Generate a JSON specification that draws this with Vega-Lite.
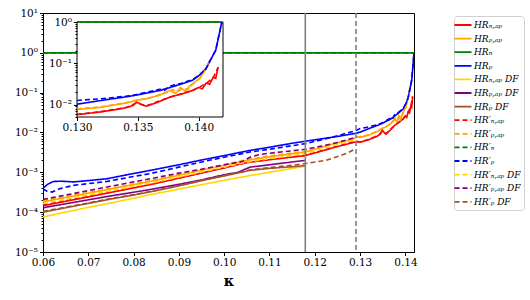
{
  "$schema": "https://vega.github.io/schema/vega-lite/v6.json",
  "width": 371,
  "height": 239,
  "autosize": {"type": "none"},
  "padding": {"left": 43, "top": 13, "right": 116, "bottom": 48},
  "config": {
    "font": "DejaVu Serif",
    "view": {"stroke": "black", "strokeWidth": 1},
    "axis": {"labelFont": "DejaVu Serif", "labelFontSize": 10.5, "labelColor": "black", "tickColor": "black", "domainColor": "black", "grid": false, "labelFlush": false, "labelOverlap": false, "titleColor": "black"},
    "legend": {
      "orient": "none", "legendX": 411, "legendY": 3, "title": null,
      "padding": 3, "strokeColor": "#d0d0d0", "fillColor": "white", "cornerRadius": 3,
      "labelFont": "DejaVu Serif", "labelFontStyle": "italic", "labelFontSize": 9, "labelColor": "black",
      "symbolType": "M-1.7,0H1.7", "symbolSize": 100, "symbolStrokeWidth": 1.8, "rowPadding": 2.6, "labelOffset": 5
    }
  },
  "datasets": {
    "d": [
      {"s": "HRₙ,ₐₚ", "k": 0.06, "v": 1.45e-4}, {"s": "HRₙ,ₐₚ", "k": 0.065, "v": 1.87e-4}, {"s": "HRₙ,ₐₚ", "k": 0.07, "v": 2.42e-4}, {"s": "HRₙ,ₐₚ", "k": 0.075, "v": 3.13e-4}, {"s": "HRₙ,ₐₚ", "k": 0.08, "v": 4.06e-4}, {"s": "HRₙ,ₐₚ", "k": 0.085, "v": 5.3e-4}, {"s": "HRₙ,ₐₚ", "k": 0.09, "v": 7.13e-4}, {"s": "HRₙ,ₐₚ", "k": 0.095, "v": 9.62e-4}, {"s": "HRₙ,ₐₚ", "k": 0.1, "v": 1.29e-3}, {"s": "HRₙ,ₐₚ", "k": 0.105, "v": 1.75e-3}, {"s": "HRₙ,ₐₚ", "k": 0.11, "v": 2.07e-3}, {"s": "HRₙ,ₐₚ", "k": 0.115, "v": 2.41e-3}, {"s": "HRₙ,ₐₚ", "k": 0.1179, "v": 2.63e-3}, {"s": "HRₙ,ₐₚ", "k": 0.122, "v": 3.56e-3}, {"s": "HRₙ,ₐₚ", "k": 0.125, "v": 4.45e-3}, {"s": "HRₙ,ₐₚ", "k": 0.1283, "v": 5.5e-3}, {"s": "HRₙ,ₐₚ", "k": 0.1291, "v": 5.9e-3}, {"s": "HRₙ,ₐₚ", "k": 0.13, "v": 5.7e-3}, {"s": "HRₙ,ₐₚ", "k": 0.1319, "v": 6.6e-3}, {"s": "HRₙ,ₐₚ", "k": 0.1335, "v": 7.8e-3}, {"s": "HRₙ,ₐₚ", "k": 0.1341, "v": 8.5e-3}, {"s": "HRₙ,ₐₚ", "k": 0.1346, "v": 9.5e-3}, {"s": "HRₙ,ₐₚ", "k": 0.1349, "v": 1.15e-2}, {"s": "HRₙ,ₐₚ", "k": 0.1353, "v": 1.0e-2}, {"s": "HRₙ,ₐₚ", "k": 0.1357, "v": 9.1e-3}, {"s": "HRₙ,ₐₚ", "k": 0.1365, "v": 1.1e-2}, {"s": "HRₙ,ₐₚ", "k": 0.1376, "v": 1.5e-2}, {"s": "HRₙ,ₐₚ", "k": 0.1386, "v": 1.8e-2}, {"s": "HRₙ,ₐₚ", "k": 0.1395, "v": 2.2e-2}, {"s": "HRₙ,ₐₚ", "k": 0.14, "v": 2.6e-2}, {"s": "HRₙ,ₐₚ", "k": 0.1403, "v": 2.4e-2}, {"s": "HRₙ,ₐₚ", "k": 0.1406, "v": 3.3e-2}, {"s": "HRₙ,ₐₚ", "k": 0.1409, "v": 3.1e-2}, {"s": "HRₙ,ₐₚ", "k": 0.1412, "v": 4.6e-2}, {"s": "HRₙ,ₐₚ", "k": 0.1414, "v": 4.3e-2}, {"s": "HRₙ,ₐₚ", "k": 0.1416, "v": 8.1e-2},

      {"s": "HRₚ,ₐₚ", "k": 0.06, "v": 1.82e-4}, {"s": "HRₚ,ₐₚ", "k": 0.065, "v": 2.33e-4}, {"s": "HRₚ,ₐₚ", "k": 0.07, "v": 2.99e-4}, {"s": "HRₚ,ₐₚ", "k": 0.075, "v": 3.82e-4}, {"s": "HRₚ,ₐₚ", "k": 0.08, "v": 4.9e-4}, {"s": "HRₚ,ₐₚ", "k": 0.085, "v": 6.34e-4}, {"s": "HRₚ,ₐₚ", "k": 0.09, "v": 8.45e-4}, {"s": "HRₚ,ₐₚ", "k": 0.095, "v": 1.13e-3}, {"s": "HRₚ,ₐₚ", "k": 0.1, "v": 1.5e-3}, {"s": "HRₚ,ₐₚ", "k": 0.105, "v": 2.0e-3}, {"s": "HRₚ,ₐₚ", "k": 0.11, "v": 2.44e-3}, {"s": "HRₚ,ₐₚ", "k": 0.115, "v": 2.92e-3}, {"s": "HRₚ,ₐₚ", "k": 0.1179, "v": 3.24e-3}, {"s": "HRₚ,ₐₚ", "k": 0.122, "v": 4.42e-3}, {"s": "HRₚ,ₐₚ", "k": 0.125, "v": 5.55e-3}, {"s": "HRₚ,ₐₚ", "k": 0.1283, "v": 6.6e-3}, {"s": "HRₚ,ₐₚ", "k": 0.1291, "v": 7.6e-3}, {"s": "HRₚ,ₐₚ", "k": 0.13, "v": 7.6e-3}, {"s": "HRₚ,ₐₚ", "k": 0.1319, "v": 8.5e-3}, {"s": "HRₚ,ₐₚ", "k": 0.1341, "v": 1.1e-2}, {"s": "HRₚ,ₐₚ", "k": 0.1349, "v": 1.26e-2}, {"s": "HRₚ,ₐₚ", "k": 0.1357, "v": 1.38e-2}, {"s": "HRₚ,ₐₚ", "k": 0.1368, "v": 1.69e-2}, {"s": "HRₚ,ₐₚ", "k": 0.1376, "v": 2.2e-2}, {"s": "HRₚ,ₐₚ", "k": 0.1381, "v": 1.85e-2}, {"s": "HRₚ,ₐₚ", "k": 0.1385, "v": 2.6e-2}, {"s": "HRₚ,ₐₚ", "k": 0.1389, "v": 2.1e-2}, {"s": "HRₚ,ₐₚ", "k": 0.1393, "v": 2.9e-2}, {"s": "HRₚ,ₐₚ", "k": 0.1395, "v": 3.2e-2}, {"s": "HRₚ,ₐₚ", "k": 0.1401, "v": 4.3e-2}, {"s": "HRₚ,ₐₚ", "k": 0.1406, "v": 7.4e-2}, {"s": "HRₚ,ₐₚ", "k": 0.1409, "v": 0.118},

      {"s": "HRₙ", "k": 0.06, "v": 1.0}, {"s": "HRₙ", "k": 0.07, "v": 1.0}, {"s": "HRₙ", "k": 0.08, "v": 1.0}, {"s": "HRₙ", "k": 0.09, "v": 1.0}, {"s": "HRₙ", "k": 0.1, "v": 1.0}, {"s": "HRₙ", "k": 0.11, "v": 1.0}, {"s": "HRₙ", "k": 0.12, "v": 1.0}, {"s": "HRₙ", "k": 0.13, "v": 1.0}, {"s": "HRₙ", "k": 0.14, "v": 1.0}, {"s": "HRₙ", "k": 0.1418, "v": 1.0},

      {"s": "HRₚ", "k": 0.06, "v": 3.98e-4}, {"s": "HRₚ", "k": 0.061, "v": 5.0e-4}, {"s": "HRₚ", "k": 0.0623, "v": 5.9e-4}, {"s": "HRₚ", "k": 0.064, "v": 6.0e-4}, {"s": "HRₚ", "k": 0.0667, "v": 5.75e-4}, {"s": "HRₚ", "k": 0.07, "v": 6.2e-4}, {"s": "HRₚ", "k": 0.0741, "v": 6.9e-4}, {"s": "HRₚ", "k": 0.079, "v": 8.9e-4}, {"s": "HRₚ", "k": 0.0837, "v": 1.12e-3}, {"s": "HRₚ", "k": 0.09, "v": 1.55e-3}, {"s": "HRₚ", "k": 0.095, "v": 2.04e-3}, {"s": "HRₚ", "k": 0.1, "v": 2.63e-3}, {"s": "HRₚ", "k": 0.1057, "v": 3.55e-3}, {"s": "HRₚ", "k": 0.11, "v": 4.27e-3}, {"s": "HRₚ", "k": 0.115, "v": 5.37e-3}, {"s": "HRₚ", "k": 0.1179, "v": 6.03e-3}, {"s": "HRₚ", "k": 0.122, "v": 7.08e-3}, {"s": "HRₚ", "k": 0.125, "v": 7.94e-3}, {"s": "HRₚ", "k": 0.1291, "v": 9.55e-3}, {"s": "HRₚ", "k": 0.13, "v": 1.02e-2}, {"s": "HRₚ", "k": 0.132, "v": 1.26e-2}, {"s": "HRₚ", "k": 0.1341, "v": 1.55e-2}, {"s": "HRₚ", "k": 0.1349, "v": 1.7e-2}, {"s": "HRₚ", "k": 0.1368, "v": 2.19e-2}, {"s": "HRₚ", "k": 0.1376, "v": 2.57e-2}, {"s": "HRₚ", "k": 0.1386, "v": 3.16e-2}, {"s": "HRₚ", "k": 0.1395, "v": 3.89e-2}, {"s": "HRₚ", "k": 0.1401, "v": 5.25e-2}, {"s": "HRₚ", "k": 0.1406, "v": 7.41e-2}, {"s": "HRₚ", "k": 0.1411, "v": 0.141}, {"s": "HRₚ", "k": 0.1414, "v": 0.204}, {"s": "HRₚ", "k": 0.1417, "v": 0.525}, {"s": "HRₚ", "k": 0.1419, "v": 1.0},

      {"s": "HRₙ,ₐₚ DF", "k": 0.06, "v": 7.6e-5}, {"s": "HRₙ,ₐₚ DF", "k": 0.065, "v": 1.0e-4}, {"s": "HRₙ,ₐₚ DF", "k": 0.07, "v": 1.32e-4}, {"s": "HRₙ,ₐₚ DF", "k": 0.075, "v": 1.7e-4}, {"s": "HRₙ,ₐₚ DF", "k": 0.08, "v": 2.24e-4}, {"s": "HRₙ,ₐₚ DF", "k": 0.0837, "v": 2.75e-4}, {"s": "HRₙ,ₐₚ DF", "k": 0.09, "v": 3.8e-4}, {"s": "HRₙ,ₐₚ DF", "k": 0.095, "v": 4.9e-4}, {"s": "HRₙ,ₐₚ DF", "k": 0.1, "v": 6.3e-4}, {"s": "HRₙ,ₐₚ DF", "k": 0.1057, "v": 8.3e-4}, {"s": "HRₙ,ₐₚ DF", "k": 0.11, "v": 1.0e-3}, {"s": "HRₙ,ₐₚ DF", "k": 0.115, "v": 1.26e-3}, {"s": "HRₙ,ₐₚ DF", "k": 0.1179, "v": 1.41e-3},

      {"s": "HRₚ,ₐₚ DF", "k": 0.06, "v": 1.29e-4}, {"s": "HRₚ,ₐₚ DF", "k": 0.065, "v": 1.62e-4}, {"s": "HRₚ,ₐₚ DF", "k": 0.07, "v": 2.04e-4}, {"s": "HRₚ,ₐₚ DF", "k": 0.075, "v": 2.57e-4}, {"s": "HRₚ,ₐₚ DF", "k": 0.08, "v": 3.16e-4}, {"s": "HRₚ,ₐₚ DF", "k": 0.0837, "v": 3.72e-4}, {"s": "HRₚ,ₐₚ DF", "k": 0.09, "v": 5.0e-4}, {"s": "HRₚ,ₐₚ DF", "k": 0.095, "v": 6.46e-4}, {"s": "HRₚ,ₐₚ DF", "k": 0.1, "v": 8.7e-4}, {"s": "HRₚ,ₐₚ DF", "k": 0.103, "v": 1.0e-3}, {"s": "HRₚ,ₐₚ DF", "k": 0.1057, "v": 1.35e-3}, {"s": "HRₚ,ₐₚ DF", "k": 0.11, "v": 1.55e-3}, {"s": "HRₚ,ₐₚ DF", "k": 0.115, "v": 1.82e-3}, {"s": "HRₚ,ₐₚ DF", "k": 0.1179, "v": 2.0e-3},

      {"s": "HRₚ DF", "k": 0.06, "v": 1.0e-4}, {"s": "HRₚ DF", "k": 0.065, "v": 1.29e-4}, {"s": "HRₚ DF", "k": 0.07, "v": 1.66e-4}, {"s": "HRₚ DF", "k": 0.075, "v": 2.14e-4}, {"s": "HRₚ DF", "k": 0.08, "v": 2.69e-4}, {"s": "HRₚ DF", "k": 0.0837, "v": 3.24e-4}, {"s": "HRₚ DF", "k": 0.09, "v": 4.57e-4}, {"s": "HRₚ DF", "k": 0.095, "v": 6.17e-4}, {"s": "HRₚ DF", "k": 0.1, "v": 8.13e-4}, {"s": "HRₚ DF", "k": 0.1057, "v": 1.12e-3}, {"s": "HRₚ DF", "k": 0.11, "v": 1.26e-3}, {"s": "HRₚ DF", "k": 0.115, "v": 1.38e-3}, {"s": "HRₚ DF", "k": 0.1179, "v": 1.48e-3},

      {"s": "HR′ₙ,ₐₚ", "k": 0.06, "v": 1.5e-4}, {"s": "HR′ₙ,ₐₚ", "k": 0.065, "v": 1.95e-4}, {"s": "HR′ₙ,ₐₚ", "k": 0.07, "v": 2.5e-4}, {"s": "HR′ₙ,ₐₚ", "k": 0.075, "v": 3.2e-4}, {"s": "HR′ₙ,ₐₚ", "k": 0.08, "v": 4.15e-4}, {"s": "HR′ₙ,ₐₚ", "k": 0.085, "v": 5.4e-4}, {"s": "HR′ₙ,ₐₚ", "k": 0.09, "v": 7.2e-4}, {"s": "HR′ₙ,ₐₚ", "k": 0.095, "v": 9.7e-4}, {"s": "HR′ₙ,ₐₚ", "k": 0.1, "v": 1.3e-3}, {"s": "HR′ₙ,ₐₚ", "k": 0.105, "v": 1.76e-3}, {"s": "HR′ₙ,ₐₚ", "k": 0.11, "v": 2.1e-3}, {"s": "HR′ₙ,ₐₚ", "k": 0.115, "v": 2.45e-3}, {"s": "HR′ₙ,ₐₚ", "k": 0.1179, "v": 2.68e-3}, {"s": "HR′ₙ,ₐₚ", "k": 0.122, "v": 3.6e-3}, {"s": "HR′ₙ,ₐₚ", "k": 0.125, "v": 4.5e-3}, {"s": "HR′ₙ,ₐₚ", "k": 0.1291, "v": 6.0e-3}, {"s": "HR′ₙ,ₐₚ", "k": 0.13, "v": 5.8e-3}, {"s": "HR′ₙ,ₐₚ", "k": 0.1319, "v": 6.7e-3}, {"s": "HR′ₙ,ₐₚ", "k": 0.1341, "v": 8.6e-3}, {"s": "HR′ₙ,ₐₚ", "k": 0.1349, "v": 1.1e-2}, {"s": "HR′ₙ,ₐₚ", "k": 0.1357, "v": 9.3e-3}, {"s": "HR′ₙ,ₐₚ", "k": 0.1376, "v": 1.5e-2}, {"s": "HR′ₙ,ₐₚ", "k": 0.1395, "v": 2.2e-2}, {"s": "HR′ₙ,ₐₚ", "k": 0.1406, "v": 3.2e-2}, {"s": "HR′ₙ,ₐₚ", "k": 0.1412, "v": 4.5e-2}, {"s": "HR′ₙ,ₐₚ", "k": 0.1416, "v": 8.0e-2},

      {"s": "HR′ₚ,ₐₚ", "k": 0.06, "v": 1.95e-4}, {"s": "HR′ₚ,ₐₚ", "k": 0.065, "v": 2.45e-4}, {"s": "HR′ₚ,ₐₚ", "k": 0.07, "v": 3.12e-4}, {"s": "HR′ₚ,ₐₚ", "k": 0.075, "v": 3.97e-4}, {"s": "HR′ₚ,ₐₚ", "k": 0.08, "v": 5.1e-4}, {"s": "HR′ₚ,ₐₚ", "k": 0.085, "v": 6.6e-4}, {"s": "HR′ₚ,ₐₚ", "k": 0.09, "v": 8.8e-4}, {"s": "HR′ₚ,ₐₚ", "k": 0.095, "v": 1.17e-3}, {"s": "HR′ₚ,ₐₚ", "k": 0.1, "v": 1.56e-3}, {"s": "HR′ₚ,ₐₚ", "k": 0.105, "v": 2.08e-3}, {"s": "HR′ₚ,ₐₚ", "k": 0.11, "v": 2.6e-3}, {"s": "HR′ₚ,ₐₚ", "k": 0.115, "v": 3.05e-3}, {"s": "HR′ₚ,ₐₚ", "k": 0.1179, "v": 3.35e-3}, {"s": "HR′ₚ,ₐₚ", "k": 0.122, "v": 4.5e-3}, {"s": "HR′ₚ,ₐₚ", "k": 0.125, "v": 5.6e-3}, {"s": "HR′ₚ,ₐₚ", "k": 0.1283, "v": 6.8e-3}, {"s": "HR′ₚ,ₐₚ", "k": 0.1291, "v": 7.8e-3}, {"s": "HR′ₚ,ₐₚ", "k": 0.13, "v": 7.9e-3}, {"s": "HR′ₚ,ₐₚ", "k": 0.1319, "v": 8.8e-3}, {"s": "HR′ₚ,ₐₚ", "k": 0.1341, "v": 1.12e-2}, {"s": "HR′ₚ,ₐₚ", "k": 0.1349, "v": 1.28e-2}, {"s": "HR′ₚ,ₐₚ", "k": 0.136, "v": 1.45e-2}, {"s": "HR′ₚ,ₐₚ", "k": 0.1368, "v": 1.75e-2}, {"s": "HR′ₚ,ₐₚ", "k": 0.1373, "v": 1.9e-2}, {"s": "HR′ₚ,ₐₚ", "k": 0.1378, "v": 2.3e-2}, {"s": "HR′ₚ,ₐₚ", "k": 0.1383, "v": 2.05e-2}, {"s": "HR′ₚ,ₐₚ", "k": 0.1387, "v": 2.5e-2}, {"s": "HR′ₚ,ₐₚ", "k": 0.1391, "v": 2.3e-2}, {"s": "HR′ₚ,ₐₚ", "k": 0.1395, "v": 3.1e-2}, {"s": "HR′ₚ,ₐₚ", "k": 0.1401, "v": 4.4e-2}, {"s": "HR′ₚ,ₐₚ", "k": 0.1406, "v": 7.4e-2}, {"s": "HR′ₚ,ₐₚ", "k": 0.1409, "v": 0.118},

      {"s": "HR′ₙ", "k": 0.06, "v": 1.0}, {"s": "HR′ₙ", "k": 0.07, "v": 1.0}, {"s": "HR′ₙ", "k": 0.08, "v": 1.0}, {"s": "HR′ₙ", "k": 0.09, "v": 1.0}, {"s": "HR′ₙ", "k": 0.1, "v": 1.0}, {"s": "HR′ₙ", "k": 0.11, "v": 1.0}, {"s": "HR′ₙ", "k": 0.12, "v": 1.0}, {"s": "HR′ₙ", "k": 0.13, "v": 1.0}, {"s": "HR′ₙ", "k": 0.14, "v": 1.0}, {"s": "HR′ₙ", "k": 0.1418, "v": 1.0},

      {"s": "HR′ₚ", "k": 0.06, "v": 3.8e-4}, {"s": "HR′ₚ", "k": 0.0608, "v": 3.4e-4}, {"s": "HR′ₚ", "k": 0.062, "v": 3.2e-4}, {"s": "HR′ₚ", "k": 0.0638, "v": 3.9e-4}, {"s": "HR′ₚ", "k": 0.0667, "v": 4.7e-4}, {"s": "HR′ₚ", "k": 0.0741, "v": 5.9e-4}, {"s": "HR′ₚ", "k": 0.079, "v": 7.5e-4}, {"s": "HR′ₚ", "k": 0.0837, "v": 9.3e-4}, {"s": "HR′ₚ", "k": 0.09, "v": 1.35e-3}, {"s": "HR′ₚ", "k": 0.095, "v": 1.82e-3}, {"s": "HR′ₚ", "k": 0.1, "v": 2.4e-3}, {"s": "HR′ₚ", "k": 0.1057, "v": 3.24e-3}, {"s": "HR′ₚ", "k": 0.11, "v": 3.8e-3}, {"s": "HR′ₚ", "k": 0.115, "v": 4.68e-3}, {"s": "HR′ₚ", "k": 0.1179, "v": 5.25e-3}, {"s": "HR′ₚ", "k": 0.122, "v": 6.76e-3}, {"s": "HR′ₚ", "k": 0.125, "v": 8.3e-3}, {"s": "HR′ₚ", "k": 0.1291, "v": 1.12e-2}, {"s": "HR′ₚ", "k": 0.13, "v": 1.26e-2}, {"s": "HR′ₚ", "k": 0.1319, "v": 1.38e-2}, {"s": "HR′ₚ", "k": 0.1341, "v": 1.6e-2}, {"s": "HR′ₚ", "k": 0.1349, "v": 1.75e-2}, {"s": "HR′ₚ", "k": 0.1368, "v": 2.35e-2}, {"s": "HR′ₚ", "k": 0.1372, "v": 2.2e-2}, {"s": "HR′ₚ", "k": 0.1376, "v": 2.8e-2}, {"s": "HR′ₚ", "k": 0.1386, "v": 3.3e-2}, {"s": "HR′ₚ", "k": 0.1395, "v": 4.0e-2}, {"s": "HR′ₚ", "k": 0.1401, "v": 5.3e-2}, {"s": "HR′ₚ", "k": 0.1406, "v": 7.4e-2}, {"s": "HR′ₚ", "k": 0.1411, "v": 0.142}, {"s": "HR′ₚ", "k": 0.1414, "v": 0.21}, {"s": "HR′ₚ", "k": 0.1417, "v": 0.53}, {"s": "HR′ₚ", "k": 0.1419, "v": 1.0},

      {"s": "HR′ₙ,ₐₚ DF", "k": 0.06, "v": 1.65e-4}, {"s": "HR′ₙ,ₐₚ DF", "k": 0.065, "v": 2.1e-4}, {"s": "HR′ₙ,ₐₚ DF", "k": 0.07, "v": 2.7e-4}, {"s": "HR′ₙ,ₐₚ DF", "k": 0.075, "v": 3.45e-4}, {"s": "HR′ₙ,ₐₚ DF", "k": 0.08, "v": 4.4e-4}, {"s": "HR′ₙ,ₐₚ DF", "k": 0.085, "v": 5.7e-4}, {"s": "HR′ₙ,ₐₚ DF", "k": 0.09, "v": 7.6e-4}, {"s": "HR′ₙ,ₐₚ DF", "k": 0.095, "v": 1.02e-3}, {"s": "HR′ₙ,ₐₚ DF", "k": 0.1, "v": 1.35e-3}, {"s": "HR′ₙ,ₐₚ DF", "k": 0.105, "v": 1.8e-3}, {"s": "HR′ₙ,ₐₚ DF", "k": 0.11, "v": 2.2e-3}, {"s": "HR′ₙ,ₐₚ DF", "k": 0.115, "v": 2.65e-3}, {"s": "HR′ₙ,ₐₚ DF", "k": 0.1179, "v": 2.95e-3}, {"s": "HR′ₙ,ₐₚ DF", "k": 0.122, "v": 4.0e-3}, {"s": "HR′ₙ,ₐₚ DF", "k": 0.125, "v": 5.0e-3}, {"s": "HR′ₙ,ₐₚ DF", "k": 0.1291, "v": 6.9e-3},

      {"s": "HR′ₚ,ₐₚ DF", "k": 0.06, "v": 2.09e-4}, {"s": "HR′ₚ,ₐₚ DF", "k": 0.065, "v": 2.69e-4}, {"s": "HR′ₚ,ₐₚ DF", "k": 0.07, "v": 3.47e-4}, {"s": "HR′ₚ,ₐₚ DF", "k": 0.075, "v": 4.47e-4}, {"s": "HR′ₚ,ₐₚ DF", "k": 0.08, "v": 5.75e-4}, {"s": "HR′ₚ,ₐₚ DF", "k": 0.0837, "v": 6.92e-4}, {"s": "HR′ₚ,ₐₚ DF", "k": 0.09, "v": 9.55e-4}, {"s": "HR′ₚ,ₐₚ DF", "k": 0.095, "v": 1.2e-3}, {"s": "HR′ₚ,ₐₚ DF", "k": 0.1, "v": 1.55e-3}, {"s": "HR′ₚ,ₐₚ DF", "k": 0.104, "v": 1.86e-3}, {"s": "HR′ₚ,ₐₚ DF", "k": 0.1057, "v": 2.4e-3}, {"s": "HR′ₚ,ₐₚ DF", "k": 0.108, "v": 2.82e-3}, {"s": "HR′ₚ,ₐₚ DF", "k": 0.11, "v": 3.02e-3}, {"s": "HR′ₚ,ₐₚ DF", "k": 0.115, "v": 3.47e-3}, {"s": "HR′ₚ,ₐₚ DF", "k": 0.1179, "v": 3.8e-3}, {"s": "HR′ₚ,ₐₚ DF", "k": 0.122, "v": 4.68e-3}, {"s": "HR′ₚ,ₐₚ DF", "k": 0.125, "v": 5.62e-3}, {"s": "HR′ₚ,ₐₚ DF", "k": 0.1291, "v": 7.59e-3},

      {"s": "HR′ₚ DF", "k": 0.06, "v": 1.05e-4}, {"s": "HR′ₚ DF", "k": 0.065, "v": 1.33e-4}, {"s": "HR′ₚ DF", "k": 0.07, "v": 1.7e-4}, {"s": "HR′ₚ DF", "k": 0.075, "v": 2.2e-4}, {"s": "HR′ₚ DF", "k": 0.08, "v": 2.75e-4}, {"s": "HR′ₚ DF", "k": 0.0837, "v": 3.3e-4}, {"s": "HR′ₚ DF", "k": 0.09, "v": 4.65e-4}, {"s": "HR′ₚ DF", "k": 0.095, "v": 6.3e-4}, {"s": "HR′ₚ DF", "k": 0.1, "v": 8.3e-4}, {"s": "HR′ₚ DF", "k": 0.1057, "v": 1.15e-3}, {"s": "HR′ₚ DF", "k": 0.11, "v": 1.32e-3}, {"s": "HR′ₚ DF", "k": 0.115, "v": 1.5e-3}, {"s": "HR′ₚ DF", "k": 0.1179, "v": 1.66e-3}, {"s": "HR′ₚ DF", "k": 0.1225, "v": 2.0e-3}, {"s": "HR′ₚ DF", "k": 0.1269, "v": 2.95e-3}, {"s": "HR′ₚ DF", "k": 0.1291, "v": 3.9e-3}
    ]
  },
  "layer": [
    {
      "layer": [
        {
          "data": {"name": "d"},
          "mark": {"type": "line", "strokeWidth": 1.6, "clip": true},
          "encoding": {
            "x": {"field": "k", "type": "quantitative", "title": "κ",
              "scale": {"domain": [0.06, 0.1419], "nice": false, "zero": false},
              "axis": {"values": [0.06, 0.07, 0.08, 0.09, 0.1, 0.11, 0.12, 0.13, 0.14], "format": ".2f", "tickSize": 3.5, "labelPadding": 2, "titleFont": "DejaVu Serif", "titleFontSize": 14, "titleFontWeight": "bold", "titlePadding": 6}},
            "y": {"field": "v", "type": "quantitative", "title": null,
              "scale": {"type": "log", "domain": [1e-5, 10], "nice": false},
              "axis": {
                "values": [1e-5, 2e-5, 3e-5, 4e-5, 5e-5, 6e-5, 7e-5, 8e-5, 9e-5, 1e-4, 2e-4, 3e-4, 4e-4, 5e-4, 6e-4, 7e-4, 8e-4, 9e-4, 0.001, 0.002, 0.003, 0.004, 0.005, 0.006, 0.007, 0.008, 0.009, 0.01, 0.02, 0.03, 0.04, 0.05, 0.06, 0.07, 0.08, 0.09, 0.1, 0.2, 0.3, 0.4, 0.5, 0.6, 0.7, 0.8, 0.9, 1, 2, 3, 4, 5, 6, 7, 8, 9, 10],
                "labelExpr": "datum.value == 10 ? '10¹' : datum.value == 1 ? '10⁰' : datum.value == 0.1 ? '10⁻¹' : datum.value == 0.01 ? '10⁻²' : datum.value == 0.001 ? '10⁻³' : datum.value == 0.0001 ? '10⁻⁴' : datum.value == 0.00001 ? '10⁻⁵' : ''",
                "tickSize": {"condition": {"test": "indexof([10,1,0.1,0.01,0.001,0.0001,0.00001], datum.value) >= 0", "value": 3.5}, "value": 2},
                "labelPadding": 2}},
            "color": {"field": "s", "type": "nominal",
              "scale": {
                "domain": ["HRₙ,ₐₚ", "HRₚ,ₐₚ", "HRₙ", "HRₚ", "HRₙ,ₐₚ DF", "HRₚ,ₐₚ DF", "HRₚ DF", "HR′ₙ,ₐₚ", "HR′ₚ,ₐₚ", "HR′ₙ", "HR′ₚ", "HR′ₙ,ₐₚ DF", "HR′ₚ,ₐₚ DF", "HR′ₚ DF"],
                "range": ["#ff0000", "#ffa500", "#008000", "#0000ff", "#ffd700", "#800080", "#a0522d", "#ff0000", "#ffa500", "#008000", "#0000ff", "#ffd700", "#800080", "#a0522d"]}},
            "strokeDash": {"field": "s", "type": "nominal",
              "scale": {
                "domain": ["HRₙ,ₐₚ", "HRₚ,ₐₚ", "HRₙ", "HRₚ", "HRₙ,ₐₚ DF", "HRₚ,ₐₚ DF", "HRₚ DF", "HR′ₙ,ₐₚ", "HR′ₚ,ₐₚ", "HR′ₙ", "HR′ₚ", "HR′ₙ,ₐₚ DF", "HR′ₚ,ₐₚ DF", "HR′ₚ DF"],
                "range": [[1, 0], [1, 0], [1, 0], [1, 0], [1, 0], [1, 0], [1, 0], [5, 3], [5, 3], [5, 3], [5, 3], [5, 3], [5, 3], [5, 3]]}}
          }
        },
        {
          "data": {"values": [{"k": 0.1179}]},
          "mark": {"type": "rule", "color": "#808080", "strokeWidth": 1.6},
          "encoding": {"x": {"field": "k", "type": "quantitative", "title": "κ"}}
        },
        {
          "data": {"values": [{"k": 0.1291}]},
          "mark": {"type": "rule", "color": "#808080", "strokeWidth": 1.6, "strokeDash": [5, 3]},
          "encoding": {"x": {"field": "k", "type": "quantitative", "title": "κ"}}
        }
      ]
    },
    {
      "layer": [
        {
          "data": {"values": [{"x0": 0.13, "x1": 0.142, "y0": 0.005, "y1": 1}]},
          "mark": {"type": "rect", "fill": "white", "stroke": "black", "strokeWidth": 1},
          "encoding": {
            "x": {"field": "x0", "type": "quantitative", "title": null,
              "scale": {"domain": [0.13, 0.142], "range": [34, 180], "nice": false, "zero": false},
              "axis": {"orient": "bottom", "offset": -135, "zindex": 1, "domain": false, "values": [0.13, 0.135, 0.14], "format": ".3f", "tickSize": 3.5, "labelPadding": 2}},
            "x2": {"field": "x1"},
            "y": {"field": "y0", "type": "quantitative", "title": null,
              "scale": {"type": "log", "domain": [0.005, 1], "range": [104, 9], "nice": false},
              "axis": {"orient": "left", "offset": -34, "zindex": 1, "domain": false,
                "values": [0.005, 0.006, 0.007, 0.008, 0.009, 0.01, 0.02, 0.03, 0.04, 0.05, 0.06, 0.07, 0.08, 0.09, 0.1, 0.2, 0.3, 0.4, 0.5, 0.6, 0.7, 0.8, 0.9, 1],
                "labelExpr": "datum.value == 1 ? '10⁰' : datum.value == 0.1 ? '10⁻¹' : datum.value == 0.01 ? '10⁻²' : ''",
                "tickSize": {"condition": {"test": "indexof([1,0.1,0.01], datum.value) >= 0", "value": 3.5}, "value": 2},
                "labelPadding": 2}},
            "y2": {"field": "y1"}
          }
        },
        {
          "data": {"name": "d"},
          "transform": [{"filter": "datum.k >= 0.13"}],
          "mark": {"type": "line", "strokeWidth": 1.6},
          "encoding": {
            "x": {"field": "k", "type": "quantitative", "title": null},
            "y": {"field": "v", "type": "quantitative", "title": null},
            "color": {"field": "s", "type": "nominal"},
            "strokeDash": {"field": "s", "type": "nominal"}
          }
        }
      ]
    }
  ],
  "resolve": {"scale": {"x": "independent", "y": "independent"}}
}
